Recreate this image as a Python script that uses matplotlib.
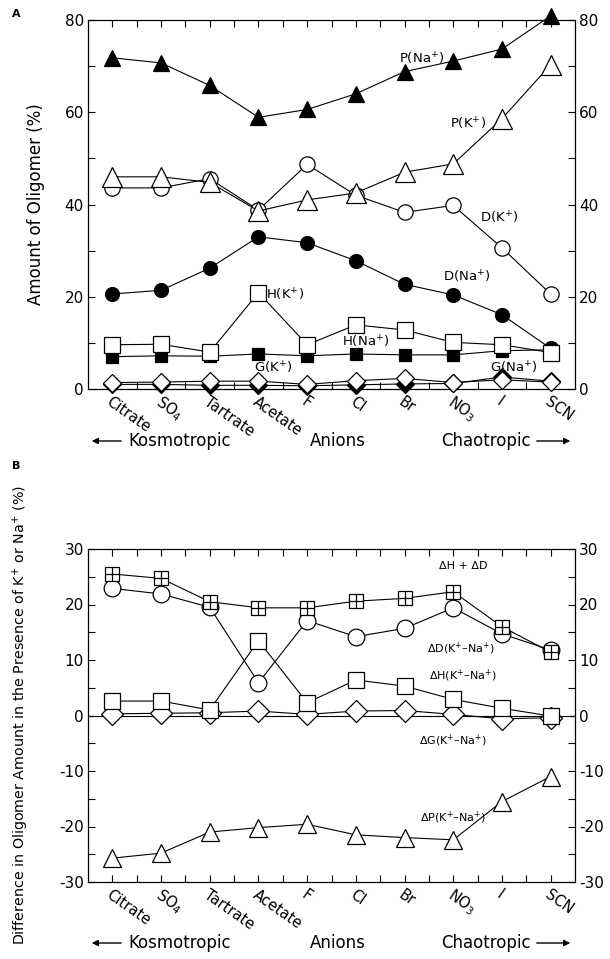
import matplotlib
matplotlib.use("Agg")
import matplotlib.pyplot as plt
from matplotlib.ticker import MultipleLocator
import numpy as np

plt.rcParams['font.family'] = ['DejaVu Sans']
plt.rcParams['mathtext.default'] = 'regular'
plt.rcParams['axes.unicode_minus'] = False

anions = ["Citrate", "SO$_4$", "Tartrate", "Acetate", "F", "Cl", "Br", "NO$_3$", "I", "SCN"]

# Panel A: amount of oligomer (%)
p_na = [71.8, 70.7, 65.8, 58.9, 60.6, 64.0, 68.8, 71.1, 73.7, 80.9]
p_k = [46.0, 46.0, 44.8, 38.6, 41.0, 42.5, 47.0, 48.8, 58.6, 70.3]
d_k = [43.6, 43.6, 45.6, 38.8, 48.7, 42.0, 38.3, 39.8, 30.6, 20.6]
d_na = [20.6, 21.4, 26.2, 33.0, 31.7, 27.8, 22.7, 20.4, 16.1, 8.8]
h_k = [9.6, 9.7, 8.0, 20.9, 9.6, 13.9, 12.8, 10.1, 9.6, 7.9]
h_na = [7.0, 7.2, 7.1, 7.6, 7.2, 7.6, 7.4, 7.4, 8.3, 8.5]
g_k = [1.4, 1.5, 1.7, 1.7, 1.0, 1.8, 2.3, 1.4, 2.0, 1.5]
g_na = [1.0, 1.0, 0.8, 0.8, 0.7, 0.9, 1.1, 1.2, 2.6, 1.7]

# Panel B: difference K+ - Na+ (%)
dh_dd = [25.5, 24.7, 20.5, 19.4, 19.4, 20.6, 21.1, 22.3, 16.0, 11.4]
dd = [22.9, 21.9, 19.5, 5.9, 17.1, 14.2, 15.7, 19.4, 14.7, 11.8]
dh = [2.6, 2.6, 1.0, 13.5, 2.3, 6.4, 5.3, 2.9, 1.3, -0.1]
dg = [0.3, 0.4, 0.5, 0.8, 0.2, 0.8, 0.9, 0.2, -0.6, -0.4]
dp = [-25.7, -24.8, -21.0, -20.2, -19.6, -21.5, -22.0, -22.4, -15.5, -11.0]

x = np.arange(1, len(anions) + 1)

W, H = 610, 959
fig = plt.figure(figsize=(W / 100, H / 100), dpi=100)

def fx(px):
    return px / W

def fy(py):
    return 1 - py / H

axA = fig.add_axes([fx(88), fy(389), fx(575 - 88), (389 - 20) / H])
axB = fig.add_axes([fx(88), fy(882), fx(575 - 88), (882 - 549) / H])

lw = 0.8
def line(ax, y, marker, filled, ms, z=3):
    ax.plot(x, y, color='black', lw=lw, marker=marker, ms=ms,
            mfc='black' if filled else 'white', mec='black', mew=0.9,
            clip_on=False, zorder=z)

# Panel A
line(axA, g_na, 'D', True, 9, z=3)
line(axA, g_k, 'D', False, 9, z=4)
line(axA, h_na, 's', True, 8, z=3)
line(axA, h_k, 's', False, 11, z=4)
line(axA, d_na, 'o', True, 10, z=3)
line(axA, d_k, 'o', False, 11, z=4)
line(axA, p_k, '^', False, 14, z=4)
line(axA, p_na, '^', True, 11, z=3)

axA.set_ylim(0, 80)
axA.yaxis.set_major_locator(MultipleLocator(20))
axA.yaxis.set_minor_locator(MultipleLocator(10))

fs_ann = 9.5
axA.text(7.35, 71.5, "P(Na$^{+}$)", fontsize=fs_ann, ha='center', va='center')
axA.text(8.3, 57.5, "P(K$^{+}$)", fontsize=fs_ann, ha='center', va='center')
axA.text(8.95, 37.0, "D(K$^{+}$)", fontsize=fs_ann, ha='center', va='center')
axA.text(8.27, 24.4, "D(Na$^{+}$)", fontsize=fs_ann, ha='center', va='center')
axA.text(4.15, 20.4, "H(K$^{+}$)", fontsize=fs_ann, ha='left', va='center')
axA.text(6.2, 10.2, "H(Na$^{+}$)", fontsize=fs_ann, ha='center', va='center')
axA.text(4.3, 4.5, "G(K$^{+}$)", fontsize=fs_ann, ha='center', va='center')
axA.text(9.25, 4.5, "G(Na$^{+}$)", fontsize=fs_ann, ha='center', va='center')
axA.set_ylabel("Amount of Oligomer (%)", fontsize=12, labelpad=14)

# Panel B
axB.axhline(0, color='black', lw=lw, zorder=2)
line(axB, dp, '^', False, 13)
line(axB, dg, 'D', False, 11)
line(axB, dh, 's', False, 11)
line(axB, dd, 'o', False, 12)
line(axB, dh_dd, 's', False, 10, z=5)
axB.plot(x, dh_dd, ls='none', marker='+', ms=10, mec='black', mew=0.9,
         clip_on=False, zorder=6)

axB.set_ylim(-30, 30)
axB.yaxis.set_major_locator(MultipleLocator(10))
axB.yaxis.set_minor_locator(MultipleLocator(5))

fs_b = 8
axB.text(8.2, 27.0, "ΔH + ΔD", fontsize=fs_b, ha='center', va='center')
axB.text(8.15, 12.0, "ΔD(K$^{+}$–Na$^{+}$)", fontsize=fs_b, ha='center', va='center')
axB.text(8.2, 7.2, "ΔH(K$^{+}$–Na$^{+}$)", fontsize=fs_b, ha='center', va='center')
axB.text(8.0, -4.6, "ΔG(K$^{+}$–Na$^{+}$)", fontsize=fs_b, ha='center', va='center')
axB.text(8.0, -18.4, "ΔP(K$^{+}$–Na$^{+}$)", fontsize=fs_b, ha='center', va='center')
axB.set_ylabel("Difference in Oligomer Amount in the Presence of K$^{+}$ or Na$^{+}$ (%)",
               fontsize=10.3, labelpad=20)

for ax in (axA, axB):
    ax.set_xlim(0.5, len(anions) + 0.5)
    ax.set_xticks(x)
    ax.set_xticks(x[:-1] + 0.5, minor=True)
    ax.set_xticklabels([])
    ax.tick_params(axis='both', which='both', direction='in', top=True, right=True,
                   labelright=True, labelsize=11, width=0.8, length=5)
    ax.tick_params(axis='y', which='major', pad=3)
    for s in ax.spines.values():
        s.set_linewidth(0.9)
    for xi, lab in zip(x, anions):
        ax.annotate(lab, xy=(xi, 0), xycoords=('data', 'axes fraction'),
                    xytext=(-3, -8), textcoords='offset points',
                    rotation=-35, rotation_mode='anchor', ha='left', va='center',
                    fontsize=10.5)

# bottom arrow rows
for ybase in (441, 943):
    yy = fy(ybase)
    fig.text(fx(128), yy, "Kosmotropic", fontsize=12, ha='left', va='center')
    fig.text(fx(338), yy, "Anions", fontsize=12, ha='center', va='center')
    fig.text(fx(531), yy, "Chaotropic", fontsize=12, ha='right', va='center')
    fig.add_artist(matplotlib.patches.FancyArrowPatch(
        (fx(124), yy), (fx(89), yy), transform=fig.transFigure,
        arrowstyle='-|>', mutation_scale=9, color='black', lw=1))
    fig.add_artist(matplotlib.patches.FancyArrowPatch(
        (fx(534), yy), (fx(573), yy), transform=fig.transFigure,
        arrowstyle='-|>', mutation_scale=9, color='black', lw=1))

fig.text(fx(12), fy(14), "A", fontsize=8, fontweight='bold', ha='left', va='center')
fig.text(fx(12), fy(466), "B", fontsize=8, fontweight='bold', ha='left', va='center')

fig.savefig("out.png", dpi=100)
